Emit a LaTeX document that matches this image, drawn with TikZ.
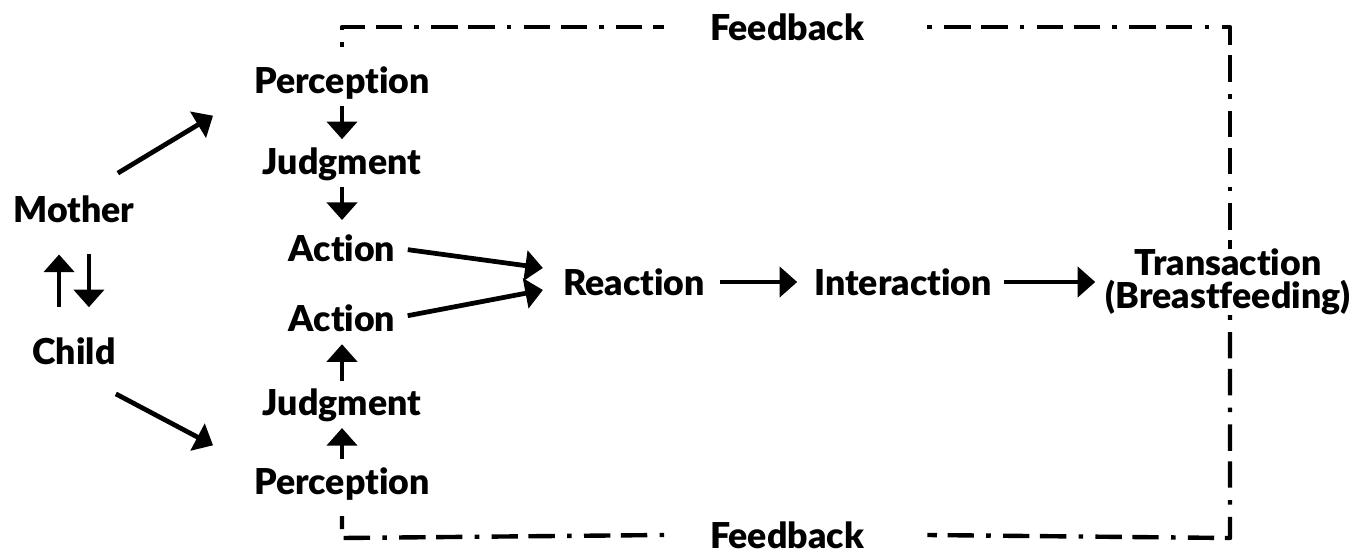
\documentclass[tikz,border=0pt]{standalone}
\usepackage{fontspec}
\setmainfont{Lato}[BoldFont=Lato Black,Ligatures=NoCommon]
\usetikzlibrary{arrows.meta}

\begin{document}
\begin{tikzpicture}[x=0.02cm,y=-0.02cm,>={Triangle[length=10pt,width=17pt]},line join=round,
	font=\fontsize{20.3}{18.5}\selectfont\bfseries,
	lbl/.style={inner sep=0pt},
	arr/.style={->,line width=2.7pt},
	fb/.style={line width=2.5pt,dash pattern=on 2.6pt off 7pt on 15pt off 6pt on 15pt off 7pt}]
	\useasboundingbox (0,0) rectangle (1369,554);
	% left side
	\node[lbl] (mother) at (74,209) {Mother};
	\node[lbl] (child) at (74,351) {Child};
	% mother chain
	\node[lbl] (perc1) at (342,83) {Perception};
	\node[lbl] (judg1) at (342,164) {Judgment};
	\node[lbl] (act1) at (342,248) {Action};
	% child chain
	\node[lbl] (act2) at (342,318) {Action};
	\node[lbl] (judg2) at (342,405) {Judgment};
	\node[lbl] (perc2) at (342,484) {Perception};
	% main line
	\node[lbl] (react) at (634,282) {Reaction};
	\node[lbl] (inter) at (903,282) {Interaction};
	\node[lbl,align=center] (trans) at (1228,282) {Transaction\\(Breastfeeding)};
	% feedback loop
	\node[lbl] (fbtop) at (787,27) {Feedback};
	\node[lbl] (fbbot) at (787,535) {Feedback};
	\coordinate (tl) at (342,27);
	\coordinate (tr) at (1230,27);
	\coordinate (bl) at (342,538);
	\coordinate (br) at (1230,538);

	\draw[arr,shorten <=17pt,shorten >=18pt] ([xshift=-8.5pt]child.north) -- ([xshift=-8.5pt]mother.south);
	\draw[arr,shorten <=18pt,shorten >=17pt] ([xshift=8.5pt]mother.south) -- ([xshift=8.5pt]child.north);
	\draw[arr] ([shift={(-17,-22)}]mother.north east) -- ([shift={(-41,16)}]perc1.south west);
	\draw[arr] ([shift={(0,29)}]child.south east) -- ([shift={(-41,-22)}]perc2.north west);

	\draw[arr,shorten <=3.5pt,shorten >=4.5pt] (perc1) -- (judg1);
	\draw[arr,shorten <=3.5pt,shorten >=8pt] (judg1) -- (act1);
	\draw[arr,shorten <=4.5pt,shorten >=3.5pt] (perc2) -- (judg2);
	\draw[arr,shorten <=4pt,shorten >=7pt] (judg2) -- (act2);

	\draw[arr,shorten <=7pt] (act1.east) -- ([shift={(-20,-14)}]react.west);
	\draw[arr,shorten <=7pt] (act2.east) -- ([shift={(-20,8)}]react.west);
	\draw[arr,shorten <=8.5pt,shorten >=9.6pt] (react) -- (inter);
	\draw[arr,shorten <=7pt,shorten >=5.7pt] (inter) -- (trans);

	\draw[fb] ([shift={(0,20)}]tl) -- (tl) -- ([xshift=-26pt]fbtop.west);
	\draw[fb] ([xshift=36pt]fbtop.east) -- (tr) -- (tr |- trans.north);
	\draw[fb] (tr |- trans.south) -- (br) -- ([xshift=36pt]fbbot.east);
	\draw[fb] ([xshift=-26pt]fbbot.west) -- (bl) -- ([shift={(0,-22)}]bl);
\end{tikzpicture}
\end{document}
